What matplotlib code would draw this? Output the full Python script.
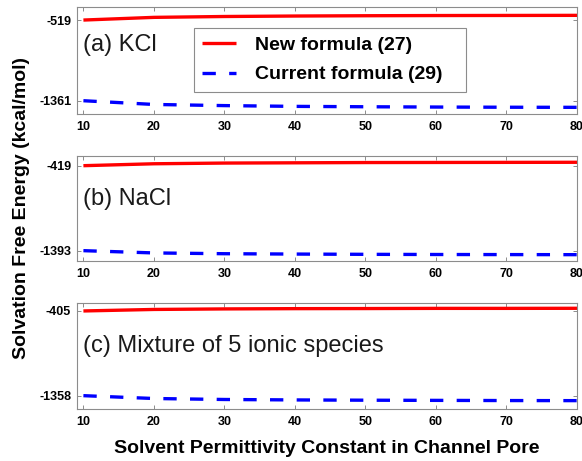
import matplotlib
matplotlib.use("Agg")
import matplotlib.pyplot as plt

plt.rcParams["font.family"] = ["Liberation Sans", "DejaVu Sans"]

# solvent permittivity in channel pore
eps = [10, 20, 30, 40, 50, 60, 70, 80]

# solvation free energy (kcal/mol)
kcl_new = [-519, -491, -482, -477, -474, -472, -471, -470]
kcl_cur = [-1361, -1400, -1412, -1420, -1424, -1427, -1429, -1430]
nacl_new = [-419, -397, -389, -386, -383, -382, -381, -380]
nacl_cur = [-1393, -1419, -1428, -1432, -1435, -1437, -1438, -1439]
mix_new = [-405, -388, -382, -379, -378, -376, -376, -375]
mix_cur = [-1358, -1390, -1401, -1406, -1409, -1411, -1413, -1414]

panel_labels = ["(a) KCl", "(b) NaCl", "(c) Mixture of 5 ionic species"]
yticks = [[-1361, -519], [-1393, -419], [-1358, -405]]
ylims = [(-1503, -380), (-1508, -308), (-1508, -312)]
xticks = [10, 20, 30, 40, 50, 60, 70, 80]
legend_labels = ["New formula (27)", "Current formula (29)"]

new_series = [kcl_new, nacl_new, mix_new]
cur_series = [kcl_cur, nacl_cur, mix_cur]

fig = plt.figure(figsize=(5.82, 4.61), dpi=100)

left, width = 0.1318, 0.8596
boxes = [(0.752, 0.2334), (0.4345, 0.2271), (0.1128, 0.2306)]
text_y = [0.644, 0.589, 0.593]
frame_col = "#8c8c8c"

for i in range(3):
    bottom, height = boxes[i]
    ax = fig.add_axes([left, bottom, width, height])
    l1, = ax.plot(eps, new_series[i], color="#ff0000", lw=2.4, solid_capstyle="butt")
    l2, = ax.plot(eps, cur_series[i], color="#0000ff", lw=2.4, dashes=(4, 4))
    ax.set_xlim(9.05, 80)
    ax.set_ylim(*ylims[i])
    ax.set_xticks(xticks)
    ax.set_yticks(yticks[i])
    ax.set_yticklabels([str(v) for v in yticks[i]])
    ax.tick_params(direction="in", length=3, width=0.7, color=frame_col,
                   top=True, right=True, labelsize=9)
    ax.tick_params(axis="x", pad=5)
    ax.tick_params(axis="y", pad=4)
    for lab in ax.get_xticklabels() + ax.get_yticklabels():
        lab.set_fontweight("bold")
    for sp in ax.spines.values():
        sp.set_color(frame_col)
        sp.set_linewidth(0.8)
    ax.text(0.0126, text_y[i], panel_labels[i], transform=ax.transAxes,
            fontsize=17, va="center", ha="left", color="#1a1a1a")
    if i == 0:
        leg_w, leg_h = 0.5437, 0.589
        leg = ax.legend([l1, l2], legend_labels, loc="upper left",
                        bbox_to_anchor=(0.234, 0.799 - leg_h, leg_w, leg_h),
                        mode="expand", borderaxespad=0,
                        prop={"weight": "bold", "size": 14},
                        frameon=True, fancybox=False, framealpha=1,
                        edgecolor=frame_col, handlelength=1.75,
                        handletextpad=1.0, labelspacing=0.6, borderpad=0.42)
        leg.get_frame().set_linewidth(0.8)

fig.text(0.037, 0.549, "Solvation Free Energy (kcal/mol)", rotation=90,
         ha="center", va="center", fontsize=14, fontweight="bold")
fig.text(0.5618, 0.028, "Solvent Permittivity Constant in Channel Pore",
         ha="center", va="center", fontsize=14, fontweight="bold")

fig.savefig("out.png", dpi=100)
plt.close(fig)
